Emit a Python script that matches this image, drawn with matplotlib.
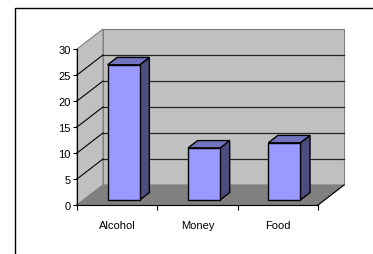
import matplotlib
matplotlib.use('Agg')

import numpy as np
import matplotlib.pyplot as plt
from matplotlib.patches import Polygon, Rectangle

categories = ['Alcohol', 'Money', 'Food']
values = [26, 10, 11]
yticks = [0, 5, 10, 15, 20, 25, 30]

plt.rcParams['font.family'] = ['Liberation Sans', 'DejaVu Sans']

fig = plt.figure(figsize=(3.73, 2.55), dpi=100)
fig.patch.set_facecolor('white')
ax = fig.add_axes([77 / 373, 49 / 255, 241 / 373, 156 / 255])
ax.set_xlim(0, len(categories))
ax.set_ylim(0, 30)
ax.patch.set_visible(False)

# oblique depth vector (display pixels for full depth)
DX, DY = 26, 20


def depth(d):
    # offset in data units for depth fraction d
    p0 = ax.transData.transform((0, 0))
    p1 = p0 + np.array([DX * d, DY * d])
    return ax.transData.inverted().transform(p1)


def poly(pts, fc, ec, lw=0.8, z=1):
    ax.add_patch(Polygon(pts, closed=True, facecolor=fc, edgecolor=ec,
                         linewidth=lw, zorder=z, clip_on=False))


ox, oy = depth(1.0)
xmax = len(categories)
ymax = yticks[-1]

# back wall
poly([(ox, oy), (xmax + ox, oy), (xmax + ox, ymax + oy), (ox, ymax + oy)],
     '#C0C0C0', '#808080', z=1)
# left wall
poly([(0, 0), (ox, oy), (ox, ymax + oy), (0, ymax)], '#C0C0C0', '#808080', z=1)
# floor
poly([(0, 0), (xmax, 0), (xmax + ox, oy), (ox, oy)], '#808080', '#808080', z=1)
ax.plot([xmax, xmax + ox], [0, oy], color='black', lw=0.8, zorder=2, clip_on=False)

# gridlines on walls
for t in yticks[1:-1]:
    ax.plot([ox, xmax + ox], [t + oy, t + oy], color='#262626', lw=0.9,
            zorder=2, clip_on=False)
    ax.plot([0, ox], [t, t + oy], color='black', lw=0.8, zorder=2, clip_on=False)

# bars
f0x, f0y = depth(0.25)
b0x, b0y = depth(0.62)
for i, v in enumerate(values):
    x0, x1 = i + 0.3, i + 0.7
    front = [(x0 + f0x, f0y), (x1 + f0x, f0y), (x1 + f0x, v + f0y), (x0 + f0x, v + f0y)]
    side = [(x1 + f0x, f0y), (x1 + b0x, b0y), (x1 + b0x, v + b0y), (x1 + f0x, v + f0y)]
    top = [(x0 + f0x, v + f0y), (x1 + f0x, v + f0y), (x1 + b0x, v + b0y), (x0 + b0x, v + b0y)]
    poly(side, '#4D4D80', 'black', lw=1.0, z=5)
    poly(top, '#7373BF', 'black', lw=1.0, z=5)
    poly(front, '#9999FF', 'black', lw=1.0, z=6)

for s in ['top', 'right']:
    ax.spines[s].set_visible(False)
for s in ['left', 'bottom']:
    ax.spines[s].set_color('black')
    ax.spines[s].set_linewidth(0.8)
    ax.spines[s].set_zorder(3)

ax.set_yticks(yticks)
ax.tick_params(axis='y', direction='out', length=3, width=0.8, pad=1.5,
               labelsize=8, colors='black')
ax.set_xticks(np.arange(0, len(categories) + 1))
ax.set_xticklabels([])
ax.set_xticks(np.arange(len(categories)) + 0.5, minor=True)
ax.set_xticklabels(categories, minor=True)
ax.tick_params(axis='x', which='major', direction='out', length=3.5, width=0.8)
ax.tick_params(axis='x', which='minor', length=0, pad=10.5, labelsize=8)

# outer chart border
fig.patches.append(Rectangle((15 / 373, -0.1), 1.0, 1.1 - 9 / 255,
                             transform=fig.transFigure, fill=False,
                             edgecolor='black', linewidth=1.0))

plt.savefig('out.png', dpi=100)
